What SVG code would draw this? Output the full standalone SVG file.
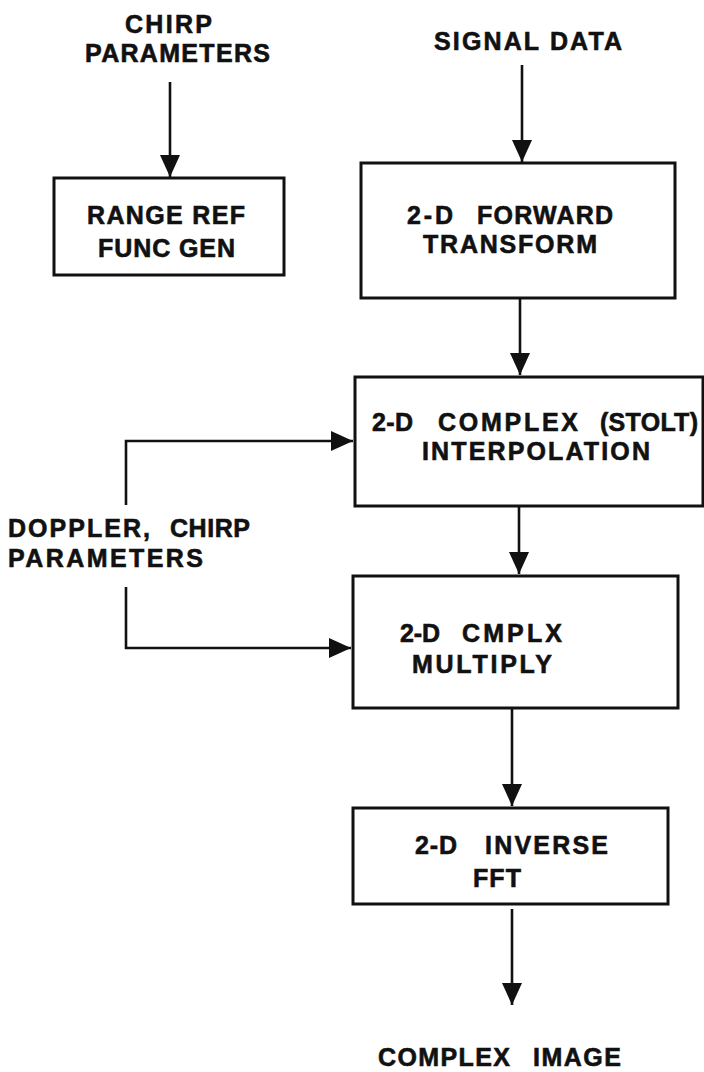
<svg xmlns="http://www.w3.org/2000/svg" width="704" height="1072" viewBox="0 0 704 1072">
<style>
.box{fill:none;stroke:#111;stroke-width:3}
.ln{fill:none;stroke:#111;stroke-width:2.6}
.t{font-family:"Liberation Sans",Arial,sans-serif;font-weight:bold;font-size:25px;fill:#111;stroke:#111;stroke-width:0.6}
</style>
<defs>
<marker id="ah" viewBox="0 0 22 20" refX="22" refY="10" markerWidth="22" markerHeight="20" markerUnits="userSpaceOnUse" orient="auto">
<path d="M0,0 L22,10 L0,20 Z" fill="#111"/>
</marker>
</defs>
<rect width="704" height="1072" fill="#fff"/>
<g id="chirp-params">
<text class="t" x="125" y="33" textLength="87">CHIRP</text>
<text class="t" x="85" y="62" textLength="185">PARAMETERS</text>
</g>
<g id="range-ref">
<rect class="box" x="54" y="178" width="230" height="97"/>
<text class="t" x="87" y="224" textLength="158">RANGE REF</text>
<text class="t" x="98" y="257" textLength="137">FUNC GEN</text>
</g>
<g id="signal-data">
<text class="t" x="434" y="50" textLength="188">SIGNAL DATA</text>
</g>
<g id="forward">
<rect class="box" x="361" y="163" width="314" height="135"/>
<text class="t" y="224"><tspan x="407" textLength="46">2-D</tspan> <tspan x="477" textLength="136">FORWARD</tspan></text>
<text class="t" x="423" y="253" textLength="174">TRANSFORM</text>
</g>
<g id="stolt">
<rect class="box" x="355" y="377" width="348" height="129"/>
<text class="t" y="431"><tspan x="372" textLength="41">2-D</tspan> <tspan x="438" textLength="140">COMPLEX</tspan> <tspan x="600" textLength="98">(STOLT)</tspan></text>
<text class="t" x="422" y="460" textLength="228">INTERPOLATION</text>
</g>
<g id="doppler">
<text class="t" y="537"><tspan x="8" textLength="142">DOPPLER,</tspan> <tspan x="170" textLength="80">CHIRP</tspan></text>
<text class="t" x="8" y="567" textLength="195">PARAMETERS</text>
</g>
<g id="multiply">
<rect class="box" x="353" y="576" width="325" height="132"/>
<text class="t" y="642"><tspan x="400" textLength="40">2-D</tspan> <tspan x="462" textLength="100">CMPLX</tspan></text>
<text class="t" x="412" y="673" textLength="140">MULTIPLY</text>
</g>
<g id="inverse">
<rect class="box" x="353" y="808" width="315" height="96"/>
<text class="t" y="854"><tspan x="415" textLength="42">2-D</tspan> <tspan x="485" textLength="123">INVERSE</tspan></text>
<text class="t" x="473" y="887" textLength="48">FFT</text>
</g>
<g id="complex-image">
<text class="t" y="1066"><tspan x="378" textLength="132">COMPLEX</tspan> <tspan x="533" textLength="88">IMAGE</tspan></text>
</g>
<g id="connectors">
<path class="ln" d="M170,82 V177" marker-end="url(#ah)"/>
<path class="ln" d="M522,65 V162" marker-end="url(#ah)"/>
<path class="ln" d="M520,298 V375" marker-end="url(#ah)"/>
<path class="ln" d="M519,506 V574" marker-end="url(#ah)"/>
<path class="ln" d="M512,708 V806" marker-end="url(#ah)"/>
<path class="ln" d="M512,909 V1005" marker-end="url(#ah)"/>
<path class="ln" d="M126,505 V441 H353" marker-end="url(#ah)"/>
<path class="ln" d="M126,587 V648 H351" marker-end="url(#ah)"/>
</g>
</svg>
